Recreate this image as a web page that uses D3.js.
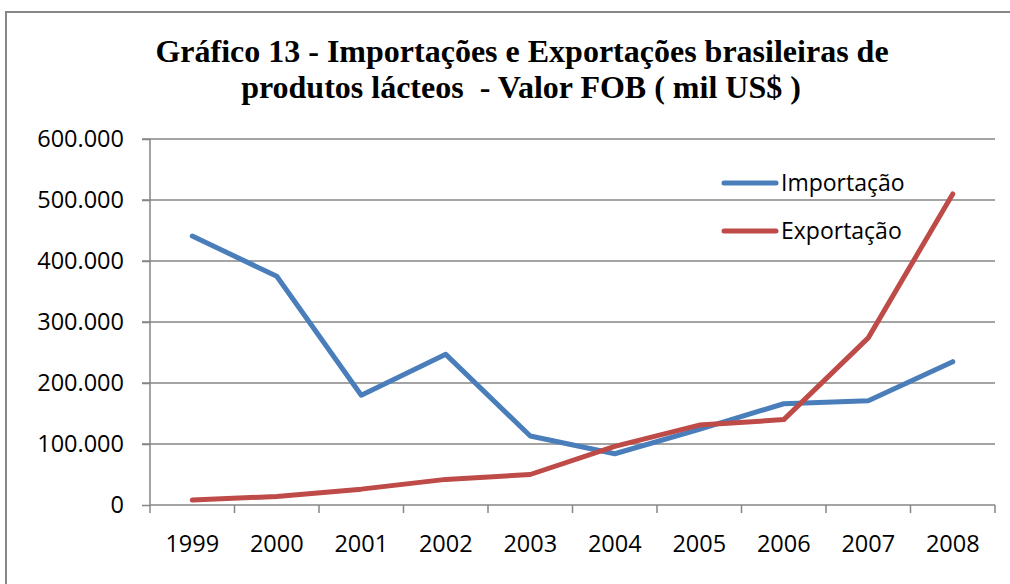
<!DOCTYPE html>
<html>
  <head>
    <meta charset='UTF-8'>
    <style>
    body { margin: 0; background: #fff; }
    svg { background: #fff; display: block; }
    .grid line { stroke: #868686; stroke-width: 1.5; }
    .axis text { font-family: 'Open Sans', sans-serif; font-size: 23.5px; fill: #000; }
    .title { font-family: 'Liberation Serif', 'Times New Roman', serif; font-weight: bold; font-size: 32px; }
    .legend text { font-family: 'Open Sans', sans-serif; font-size: 23px; }
    </style>
  </head>
  <body>
  <script src='https://cdnjs.cloudflare.com/ajax/libs/d3/7.8.5/d3.min.js'></script>
  <script>

    var years = ['1999', '2000', '2001', '2002', '2003', '2004', '2005', '2006', '2007', '2008'];
    var importacao = [441000, 375000, 180000, 247000, 113000, 84000, 124000, 166000, 171000, 235000];
    var exportacao = [8000, 14000, 26000, 42000, 50000, 96000, 131000, 140000, 274000, 510000];
    var yTicks = [0, 100000, 200000, 300000, 400000, 500000, 600000];
    var seriesNames = ['Importação', 'Exportação'];
    var colors = ['#4a7ebb', '#be4b48'];

    var svg = d3.select('body')
      .append('svg')
      .attr('width', 1010)
      .attr('height', 584);

    // chart frame (runs off the right/bottom edge in the original)
    svg.append('rect')
      .attr('x', 6).attr('y', 12)
      .attr('width', 1020).attr('height', 600)
      .attr('fill', 'none')
      .attr('stroke', '#868686')
      .attr('stroke-width', 2);

    var title = svg.append('text')
      .attr('class', 'title')
      .attr('text-anchor', 'middle');
    title.append('tspan').attr('x', 522).attr('y', 62)
      .text('Gráfico 13 - Importações e Exportações brasileiras de');
    title.append('tspan').attr('x', 521).attr('y', 98)
      .text('produtos lácteos  - Valor FOB ( mil US$ )')
      .style('white-space', 'pre');

    var x = d3.scaleBand().domain(years).range([150, 995]);
    var y = d3.scaleLinear().domain([0, 600000]).range([505, 139]);

    var br = d3.formatLocale({ decimal: ',', thousands: '.', grouping: [3], currency: ['US$', ''] });
    var fmt = br.format(',d');

    // horizontal gridlines
    svg.append('g').attr('class', 'grid')
      .selectAll('line')
      .data(yTicks.slice(1))
      .enter().append('line')
      .attr('x1', 142).attr('x2', 995)
      .attr('y1', d => y(d)).attr('y2', d => y(d));

    var yAxis = svg.append('g')
      .attr('class', 'axis')
      .attr('transform', 'translate(150,0)')
      .call(d3.axisLeft(y).tickValues(yTicks).tickFormat(fmt).tickSize(8).tickPadding(18));

    var xAxis = svg.append('g')
      .attr('class', 'axis')
      .attr('transform', 'translate(0,505)')
      .call(d3.axisBottom(x).tickSize(0).tickPadding(30));

    // category boundary ticks
    xAxis.selectAll('line.bound')
      .data(d3.range(years.length + 1))
      .enter().append('line')
      .attr('class', 'bound')
      .attr('x1', i => 150 + i * x.step()).attr('x2', i => 150 + i * x.step())
      .attr('y1', 0).attr('y2', 8);

    svg.selectAll('.axis path, .axis line')
      .attr('stroke', '#868686')
      .attr('stroke-width', 1.5);
    xAxis.select('path').attr('d', 'M150,0H995');
    yAxis.select('path').attr('d', 'M0,139V505');

    var line = d3.line()
      .x((d, i) => x(years[i]) + x.bandwidth() / 2)
      .y(d => y(d));

    [importacao, exportacao].forEach(function(s, k) {
      svg.append('path')
        .datum(s)
        .attr('d', line)
        .attr('fill', 'none')
        .attr('stroke', colors[k])
        .attr('stroke-width', 5)
        .attr('stroke-linejoin', 'round')
        .attr('stroke-linecap', 'round');
    });

    var legend = svg.append('g').attr('class', 'legend');
    seriesNames.forEach(function(n, k) {
      var ly = 183 + k * 48;
      legend.append('line')
        .attr('x1', 724).attr('x2', 776)
        .attr('y1', ly).attr('y2', ly)
        .attr('stroke', colors[k])
        .attr('stroke-width', 5)
        .attr('stroke-linecap', 'round');
      legend.append('text')
        .attr('x', 781).attr('y', ly + 8)
        .text(n);
    });

  </script>
  </body>
</html>
